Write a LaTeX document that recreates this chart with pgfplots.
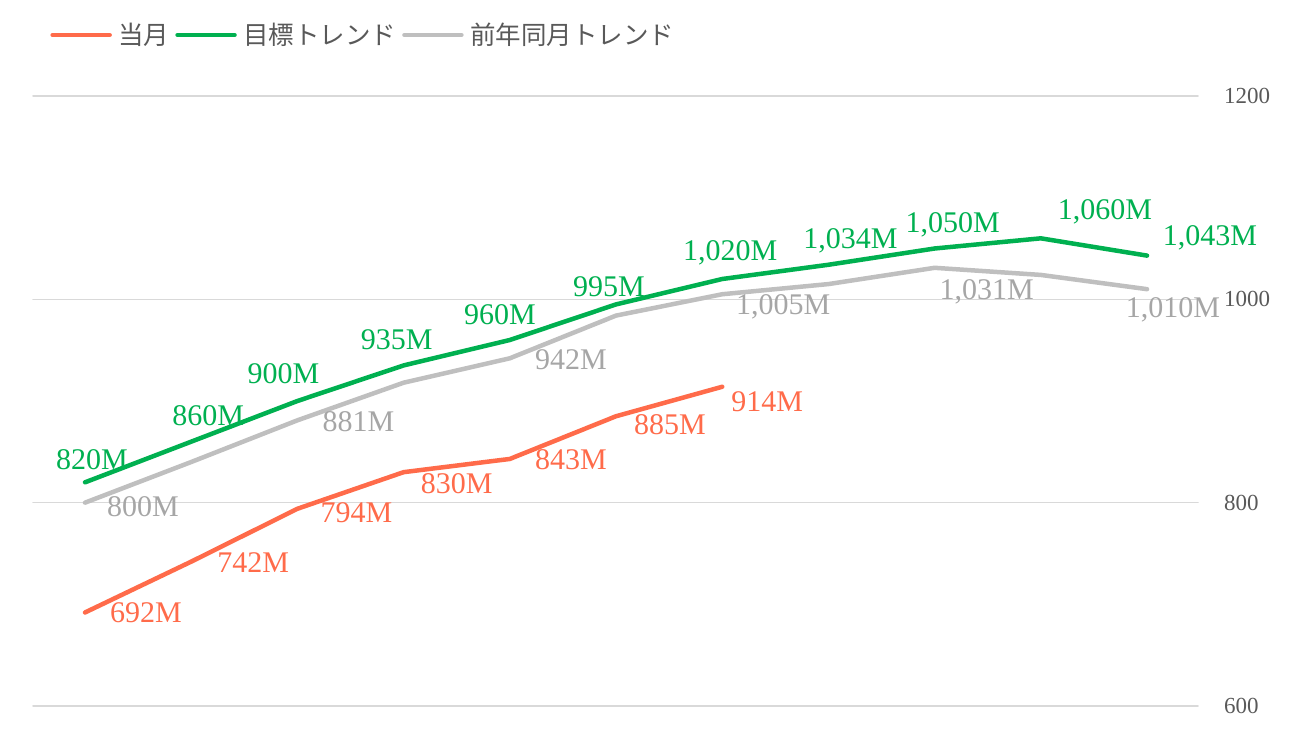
\documentclass[border=0pt]{standalone}
\usepackage{fontspec}
\setmainfont{Liberation Serif}
\newfontfamily\jp{Noto Sans CJK JP}
\usepackage{pgfplots}
\usepackage{pgfplotstable}
\pgfplotsset{compat=1.18}

\definecolor{cOrange}{HTML}{FF6B4A}
\definecolor{cGreen}{HTML}{00B050}
\definecolor{cGray}{HTML}{BFBFBF}
\definecolor{cGrayLab}{HTML}{A6A6A6}
\definecolor{cGrid}{HTML}{D9D9D9}
\definecolor{cText}{HTML}{595959}

\pgfplotstableread{
x y lab dx dy
0 692 692M 30.5 0
1 742 742M 31 -0.5
2 794 794M 29.5 -2
3 830 830M 26.5 -6
4 843 843M 30.5 -0.5
5 885 885M 27 -4
6 914 914M 22.5 -7.5
}\tOrange

\pgfplotstableread{
x y lab dx dy
0 820 820M 3.5 11.5
1 860 860M 8.5 13
2 900 900M -7 13.5
3 935 935M -3.5 13
4 960 960M -5 12.5
5 995 995M -3.5 9
6 1020 1,020M 4 13
7 1034 1,034M 11 12
8 1050 1,050M 9 12
9 1060 1,060M 32 13
10 1043 1,043M 31.5 9
}\tGreen

\pgfplotstableread{
x y
0 800
1 840
2 881
3 918
4 942
5 984
6 1005
7 1015
8 1031
9 1024
10 1010
}\tGray

\pgfplotstableread{
x y lab dx dy
0 800 800M 29 -2
2 881 881M 30.5 -0.5
4 942 942M 30.5 -0.5
6 1005 1,005M 30.5 -6.5
8 1031 1,031M 26 -12
10 1010 1,010M 13 -10.5
}\tGrayLab

\begin{document}
\begin{tikzpicture}
\begin{axis}[
  name=ax,
  scale only axis,
  width=582.5pt, height=305pt,
  xmin=-0.49, xmax=10.48,
  ymin=600, ymax=1200,
  ytick={600,800,1000,1200},
  xtick=\empty,
  yticklabel pos=right,
  axis line style={draw=none},
  major tick style={draw=none},
  ymajorgrids,
  grid style={cGrid, line width=0.75pt},
  clip=false,
  /pgf/number format/assume math mode=true,
  /pgf/number format/1000 sep={},
  yticklabel style={font=\fontsize{11.5}{14}\selectfont, text=cText, anchor=west, xshift=9.5pt},
  line join=round, line cap=round,
  legend columns=-1,
  legend style={draw=none, fill=none, at={(axis description cs:0,1)}, anchor=west,
    xshift=8.5pt, yshift=30.5pt, inner sep=0pt,
    font=\jp\fontsize{12.75}{15}\selectfont, text=cText,
    /tikz/every even column/.append style={column sep=1pt},
    /tikz/every odd column/.append style={column sep=1.2pt}},
  legend image code/.code={\draw[#1, line width=2.25pt, line cap=round] (0pt,0pt) -- (28.5pt,0pt);},
  nodes near coords style={font=\fontsize{15}{18}\selectfont, anchor=center, inner sep=0pt},
]
\addplot[cOrange, line width=2.25pt, mark=none,
  nodes near coords, point meta=explicit symbolic,
  visualization depends on={\thisrow{dx}\as\lblx},
  visualization depends on={\thisrow{dy}\as\lbly},
  every node near coord/.append style={text=cOrange, xshift=\lblx pt, yshift=\lbly pt}]
  table[x=x, y=y, meta=lab]{\tOrange};
\addlegendentry{当月}
\addplot[cGreen, line width=2.25pt, mark=none,
  nodes near coords, point meta=explicit symbolic,
  visualization depends on={\thisrow{dx}\as\lblx},
  visualization depends on={\thisrow{dy}\as\lbly},
  every node near coord/.append style={text=cGreen, xshift=\lblx pt, yshift=\lbly pt}]
  table[x=x, y=y, meta=lab]{\tGreen};
\addlegendentry{目標トレンド}
\addplot[cGray, line width=2.25pt, mark=none] table[x=x, y=y]{\tGray};
\addlegendentry{前年同月トレンド}
\addplot[draw=none, mark=none, forget plot,
  nodes near coords, point meta=explicit symbolic,
  visualization depends on={\thisrow{dx}\as\lblx},
  visualization depends on={\thisrow{dy}\as\lbly},
  every node near coord/.append style={text=cGrayLab, xshift=\lblx pt, yshift=\lbly pt}]
  table[x=x, y=y, meta=lab]{\tGrayLab};
\end{axis}
\pgfresetboundingbox
\path[use as bounding box] ([shift={(-16.5pt,-16pt)}]ax.south west) rectangle ([shift={(51pt,48pt)}]ax.north east);
\end{tikzpicture}
\end{document}
